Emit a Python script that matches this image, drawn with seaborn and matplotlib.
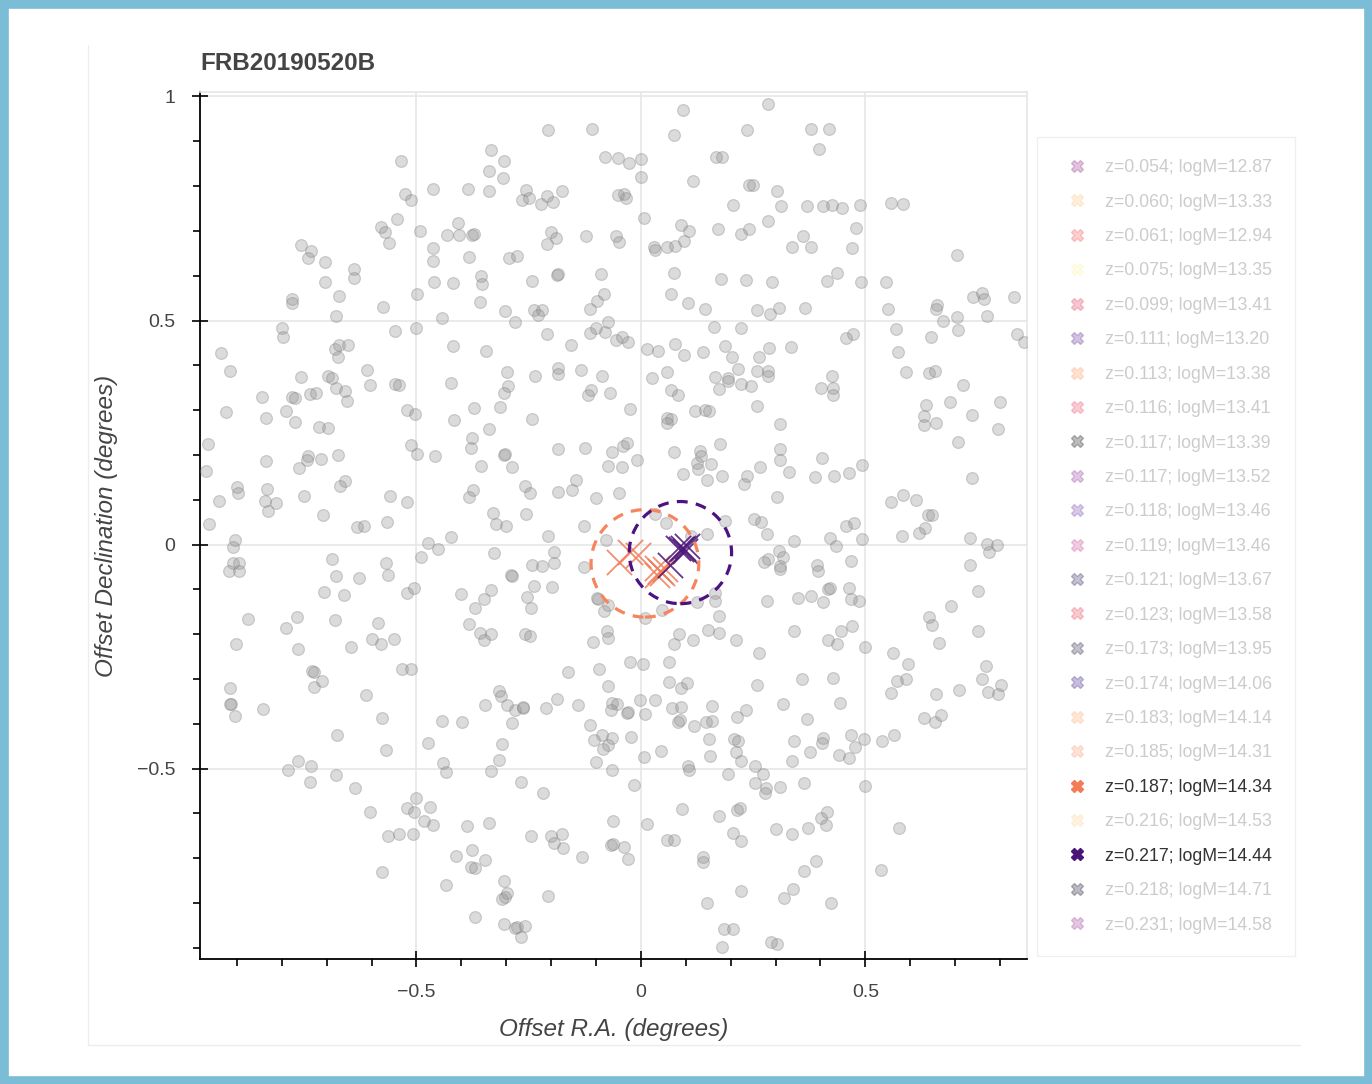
import matplotlib
matplotlib.use('Agg')
import matplotlib.pyplot as plt
import seaborn as sns
import pandas as pd
from matplotlib.patches import Circle, Rectangle
from matplotlib.lines import Line2D
from matplotlib.ticker import MultipleLocator, FuncFormatter

# title / axis text
title = 'FRB20190520B'
xlabel = 'Offset R.A. (degrees)'
ylabel = 'Offset Declination (degrees)'

# background galaxies (offset RA, offset Dec in degrees), read region by region
field_nw = [(-0.535,0.855),(-0.463,0.793),(-0.384,0.793),(-0.526,0.782),(-0.511,0.769),(-0.543,0.726),
            (-0.578,0.709),(-0.569,0.697),(-0.562,0.673),(-0.491,0.700),(-0.407,0.718),(-0.432,0.690),
            (-0.406,0.691),(-0.376,0.690),(-0.372,0.692),(-0.463,0.661),(-0.463,0.633),(-0.382,0.641),
            (-0.756,0.668),(-0.734,0.655),(-0.742,0.640),(-0.704,0.630),(-0.640,0.616),(-0.640,0.595),
            (-0.704,0.586),(-0.672,0.554),(-0.776,0.547),(-0.776,0.539),(-0.678,0.510),(-0.574,0.531),
            (-0.498,0.559),(-0.460,0.585),(-0.418,0.583),(-0.442,0.506),(-0.800,0.483),(-0.797,0.463),
            (-0.547,0.477),(-0.502,0.483),(-0.419,0.443),(-0.936,0.428),(-0.916,0.387),(-0.682,0.436),
            (-0.673,0.445),(-0.653,0.445),(-0.674,0.419),(-0.611,0.390)]

field_w = [(-0.757,0.373),(-0.696,0.376),(-0.687,0.371),(-0.680,0.349),(-0.658,0.343),(-0.655,0.321),
           (-0.604,0.356),(-0.547,0.359),(-0.538,0.356),(-0.422,0.361),(-0.844,0.329),(-0.778,0.329),
           (-0.771,0.327),(-0.736,0.336),(-0.723,0.339),(-0.924,0.295),(-0.835,0.282),(-0.791,0.298),
           (-0.771,0.274),(-0.718,0.263),(-0.698,0.259),(-0.520,0.300),(-0.504,0.292),(-0.416,0.279),
           (-0.964,0.224),(-0.969,0.164),(-0.835,0.186),(-0.742,0.198),(-0.744,0.189),(-0.762,0.170),
           (-0.713,0.190),(-0.675,0.200),(-0.513,0.223),(-0.498,0.203),(-0.458,0.197),(-0.376,0.238),
           (-0.378,0.215),(-0.899,0.129),(-0.898,0.116),(-0.833,0.124),(-0.837,0.098),(-0.813,0.092),
           (-0.830,0.074),(-0.940,0.097),(-0.750,0.108),(-0.658,0.142),(-0.670,0.130),(-0.707,0.065),
           (-0.559,0.109),(-0.520,0.096),(-0.962,0.045),(-0.632,0.039),(-0.616,0.042),(-0.566,0.051),
           (-0.382,0.106),(-0.375,0.122),(-0.904,0.010),(-0.908,-0.006),(-0.908,-0.042),(-0.896,-0.041),
           (-0.917,-0.059),(-0.896,-0.059),(-0.688,-0.033),(-0.679,-0.070),(-0.628,-0.074),(-0.568,-0.042),
           (-0.563,-0.067),(-0.705,-0.107),(-0.661,-0.113),(-0.522,-0.108),(-0.506,-0.097),(-0.474,0.004),
           (-0.453,-0.010),(-0.490,-0.027),(-0.424,0.016),(-0.401,-0.111),(-0.875,-0.167),(-0.791,-0.186),
           (-0.767,-0.161),(-0.682,-0.169),(-0.586,-0.175),(-0.600,-0.210),(-0.578,-0.223),(-0.551,-0.211),
           (-0.646,-0.229),(-0.764,-0.234),(-0.902,-0.222),(-0.382,-0.177),(-0.370,-0.141),(-0.732,-0.282),
           (-0.728,-0.284),(-0.532,-0.278),(-0.511,-0.278)]

field_sw = [(-0.915,-0.321),(-0.912,-0.355),(-0.916,-0.355),(-0.904,-0.382),(-0.841,-0.367),(-0.727,-0.317),
            (-0.710,-0.304),(-0.612,-0.336),(-0.576,-0.388),(-0.677,-0.424),(-0.567,-0.459),(-0.443,-0.393),
            (-0.398,-0.397),(-0.474,-0.443),(-0.764,-0.483),(-0.785,-0.503),(-0.735,-0.494),(-0.738,-0.531),
            (-0.678,-0.514),(-0.636,-0.544),(-0.604,-0.597),(-0.440,-0.488),(-0.433,-0.507),(-0.502,-0.565),
            (-0.520,-0.589),(-0.506,-0.596),(-0.469,-0.586),(-0.484,-0.616),(-0.463,-0.626),(-0.563,-0.650),
            (-0.538,-0.647),(-0.507,-0.646),(-0.576,-0.730),(-0.433,-0.759),(-0.412,-0.696),(-0.387,-0.629),
            (-0.376,-0.682),(-0.378,-0.720),(-0.369,-0.722),(-0.369,-0.831)]

field_s = [(-0.162,-0.284),(-0.093,-0.278),(0.062,-0.307),(0.089,-0.321),(0.102,-0.310),(-0.317,-0.327),
           (-0.312,-0.339),(-0.298,-0.358),(-0.348,-0.357),(-0.280,-0.370),(-0.263,-0.365),(-0.262,-0.362),
           (-0.287,-0.399),(-0.211,-0.365),(-0.187,-0.345),(-0.139,-0.358),(-0.073,-0.316),(-0.065,-0.353),
           (-0.054,-0.355),(-0.067,-0.369),(-0.032,-0.377),(-0.028,-0.374),(-0.001,-0.347),(0.009,-0.379),
           (0.032,-0.347),(0.070,-0.364),(0.090,-0.362),(0.083,-0.396),(0.087,-0.392),(0.118,-0.405),
           (0.145,-0.397),(0.158,-0.394),(0.159,-0.361),(0.152,-0.433),(0.154,-0.472),(0.213,-0.386),
           (0.235,-0.370),(0.207,-0.434),(0.216,-0.438),(0.212,-0.462),(0.224,-0.482),(0.255,-0.495),
           (0.254,-0.533),(0.258,-0.313),(-0.113,-0.402),(-0.087,-0.424),(-0.065,-0.432),(-0.073,-0.448),
           (-0.084,-0.457),(-0.105,-0.437),(-0.021,-0.429),(-0.310,-0.446),(-0.316,-0.480),(-0.334,-0.506),
           (-0.267,-0.529),(-0.219,-0.555),(-0.101,-0.486),(-0.064,-0.503),(0.006,-0.474),(0.044,-0.461),
           (-0.016,-0.537),(0.104,-0.494),(0.107,-0.503),(0.194,-0.512),(0.092,-0.590),(0.174,-0.606),
           (0.213,-0.592),(0.220,-0.589),(0.205,-0.644),(0.224,-0.661),(0.014,-0.623),(-0.063,-0.618),
           (-0.066,-0.670),(-0.062,-0.668),(-0.038,-0.676),(-0.028,-0.702),(0.059,-0.659),(0.073,-0.659),
           (0.138,-0.698),(0.138,-0.709),(-0.338,-0.622),(-0.245,-0.650),(-0.200,-0.651),(-0.194,-0.666),
           (-0.176,-0.647),(-0.173,-0.677),(-0.132,-0.698),(-0.347,-0.703),(-0.306,-0.752),(-0.310,-0.791),
           (-0.298,-0.778),(-0.302,-0.787),(-0.207,-0.784),(-0.304,-0.847),(-0.280,-0.856),(-0.276,-0.854),
           (-0.259,-0.851),(-0.267,-0.875),(0.224,-0.774),(0.147,-0.801),(0.185,-0.857),(0.206,-0.857),
           (0.181,-0.898)]

field_se = [(0.359,-0.301),(0.429,-0.297),(0.316,-0.355),(0.443,-0.353),(0.370,-0.390),(0.340,-0.438),
            (0.376,-0.462),(0.405,-0.431),(0.404,-0.442),(0.336,-0.482),(0.442,-0.469),(0.464,-0.477),
            (0.467,-0.425),(0.477,-0.452),(0.498,-0.434),(0.536,-0.438),(0.564,-0.424),(0.556,-0.332),
            (0.570,-0.304),(0.590,-0.301),(0.657,-0.333),(0.631,-0.388),(0.654,-0.397),(0.668,-0.380),
            (0.708,-0.324),(0.759,-0.300),(0.773,-0.330),(0.796,-0.334),(0.802,-0.314),(0.272,-0.513),
            (0.279,-0.543),(0.276,-0.555),(0.310,-0.541),(0.364,-0.532),(0.499,-0.540),(0.415,-0.598),
            (0.402,-0.610),(0.413,-0.626),(0.302,-0.635),(0.336,-0.646),(0.372,-0.633),(0.576,-0.633),
            (0.390,-0.707),(0.364,-0.728),(0.534,-0.727),(0.338,-0.768),(0.318,-0.788),(0.424,-0.800),
            (0.290,-0.887),(0.303,-0.892)]

field_e = [(0.401,0.350),(0.427,0.349),(0.429,0.334),(0.426,0.377),(0.259,0.388),(0.283,0.388),(0.283,0.377),
           (0.259,0.310),(0.309,0.270),(0.309,0.213),(0.309,0.188),(0.266,0.174),(0.329,0.163),(0.404,0.194),
           (0.387,0.151),(0.430,0.153),(0.464,0.160),(0.493,0.177),(0.304,0.105),(0.267,0.050),(0.253,0.056),
           (0.282,0.024),(0.341,0.007),(0.421,0.015),(0.435,-0.003),(0.456,0.042),(0.474,0.047),(0.493,0.013),
           (0.307,-0.015),(0.316,-0.027),(0.284,-0.032),(0.274,-0.040),(0.309,-0.047),(0.309,-0.054),
           (0.392,-0.045),(0.395,-0.058),(0.468,-0.036),(0.416,-0.100),(0.422,-0.097),(0.464,-0.097),
           (0.468,-0.121),(0.485,-0.125),(0.282,-0.127),(0.351,-0.120),(0.379,-0.115),(0.405,-0.128),
           (0.342,-0.194),(0.416,-0.212),(0.436,-0.223),(0.445,-0.192),(0.470,-0.181),(0.264,-0.241),
           (0.500,-0.229),(0.561,-0.241),(0.596,-0.267),(0.768,-0.270),(0.718,0.356),(0.688,0.318),
           (0.635,0.312),(0.630,0.286),(0.631,0.267),(0.658,0.271),(0.737,0.289),(0.800,0.318),(0.795,0.258),
           (0.707,0.229),(0.738,0.149),(0.556,0.096),(0.583,0.111),(0.613,0.100),(0.640,0.067),(0.648,0.065),
           (0.633,0.037),(0.620,0.025),(0.582,0.019),(0.734,0.014),(0.772,0.002),(0.776,-0.016),(0.794,-0.001),
           (0.734,-0.046),(0.751,-0.104),(0.690,-0.138),(0.642,-0.161),(0.649,-0.180),(0.663,-0.220),
           (0.751,-0.194)]

field_ne = [(0.283,0.984),(0.379,0.927),(0.418,0.927),(0.397,0.882),(0.304,0.790),(0.313,0.756),(0.370,0.756),
            (0.405,0.756),(0.425,0.757),(0.448,0.752),(0.489,0.757),(0.558,0.762),(0.584,0.759),(0.283,0.722),
            (0.361,0.689),(0.336,0.663),(0.379,0.663),(0.479,0.706),(0.470,0.661),(0.703,0.647),(0.292,0.586),
            (0.414,0.588),(0.437,0.605),(0.490,0.585),(0.547,0.587),(0.259,0.523),(0.288,0.515),(0.308,0.528),
            (0.366,0.529),(0.550,0.526),(0.659,0.535),(0.657,0.526),(0.673,0.500),(0.703,0.507),(0.707,0.479),
            (0.739,0.552),(0.759,0.562),(0.764,0.547),(0.772,0.511),(0.830,0.552),(0.569,0.480),(0.573,0.429),
            (0.646,0.463),(0.590,0.384),(0.641,0.382),(0.655,0.388),(0.837,0.471),(0.853,0.451),(0.456,0.460),
            (0.473,0.471),(0.285,0.439),(0.262,0.418),(0.335,0.441)]

field_n = [(-0.206,0.926),(-0.110,0.927),(0.094,0.970),(0.073,0.915),(0.237,0.925),(-0.334,0.880),(-0.305,0.856),
           (-0.339,0.833),(-0.307,0.818),(-0.338,0.788),(-0.080,0.864),(-0.052,0.862),(-0.027,0.851),(0.000,0.861),
           (0.000,0.820),(0.168,0.866),(0.181,0.864),(0.116,0.812),(0.241,0.802),(0.250,0.803),(-0.256,0.791),
           (-0.264,0.769),(-0.250,0.774),(-0.223,0.761),(-0.210,0.777),(-0.196,0.765),(-0.176,0.788),
           (-0.052,0.780),(-0.037,0.783),(-0.033,0.774),(0.205,0.757),(0.006,0.728),(-0.200,0.698),
           (-0.189,0.684),(-0.210,0.671),(-0.123,0.688),(-0.056,0.688),(-0.049,0.676),(0.090,0.713),
           (0.107,0.699),(0.171,0.704),(0.222,0.693),(0.241,0.704),(0.030,0.664),(0.031,0.657),(0.058,0.663),
           (0.076,0.667),(0.096,0.678),(-0.294,0.640),(-0.276,0.643),(-0.356,0.599),(-0.353,0.582),
           (-0.242,0.589),(-0.187,0.601),(-0.184,0.603),(-0.088,0.604),(0.073,0.607),(0.178,0.592),
           (0.235,0.590),(-0.359,0.542),(-0.302,0.521),(-0.280,0.496),(-0.237,0.523),(-0.221,0.523),
           (-0.230,0.512),(-0.114,0.526),(-0.098,0.543),(-0.082,0.560),(0.067,0.559),(0.105,0.539),
           (0.143,0.525),(-0.210,0.470),(-0.156,0.445),(-0.113,0.473),(-0.099,0.484),(-0.080,0.474),
           (-0.073,0.496),(-0.056,0.457),(-0.043,0.464),(-0.029,0.451),(-0.345,0.433),(-0.298,0.385),
           (-0.236,0.377),(-0.184,0.394),(-0.184,0.380),(-0.134,0.390),(-0.087,0.376),(0.013,0.436),
           (0.039,0.432),(0.076,0.447),(0.095,0.422),(0.138,0.430),(0.162,0.486),(0.224,0.483),(0.188,0.444),
           (0.203,0.419),(0.216,0.391),(0.058,0.385),(0.024,0.371),(0.164,0.375),(0.194,0.371)]

field_c = [(-0.295,0.353),(-0.304,0.338),(-0.313,0.308),(-0.242,0.281),(-0.339,0.258),(-0.371,0.304),
           (-0.117,0.334),(-0.112,0.344),(-0.068,0.338),(-0.024,0.303),(0.068,0.344),(0.083,0.334),
           (0.059,0.282),(0.068,0.281),(0.059,0.271),(0.120,0.297),(0.142,0.301),(0.152,0.297),(0.174,0.347),
           (0.194,0.364),(0.224,0.359),(0.246,0.353),(-0.306,0.200),(-0.302,0.203),(-0.356,0.176),
           (-0.287,0.173),(-0.185,0.213),(-0.125,0.216),(-0.065,0.207),(-0.039,0.220),(-0.032,0.226),
           (-0.073,0.176),(-0.041,0.174),(-0.008,0.189),(0.074,0.206),(0.131,0.208),(0.133,0.198),
           (0.126,0.183),(0.127,0.169),(0.156,0.180),(0.094,0.157),(0.147,0.145),(0.181,0.152),(0.176,0.225),
           (0.237,0.154),(0.230,0.136),(-0.258,0.130),(-0.248,0.114),(-0.184,0.117),(-0.154,0.122),
           (-0.144,0.144),(-0.101,0.104),(-0.048,0.116),(-0.330,0.071),(-0.323,0.045),(-0.301,0.042),
           (-0.256,0.069),(-0.207,0.018),(-0.127,0.042),(-0.077,0.011),(0.031,0.068),(0.055,0.048),
           (0.111,0.020),(0.148,0.024),(0.188,0.053),(-0.328,-0.018),(-0.193,-0.017),(-0.242,-0.045),
           (-0.221,-0.048),(-0.193,-0.042),(-0.127,-0.050),(-0.289,-0.067),(-0.286,-0.071),(-0.334,-0.102),
           (-0.350,-0.122),(-0.254,-0.117),(-0.244,-0.142),(-0.238,-0.093),(-0.197,-0.094),(-0.095,-0.122),
           (-0.098,-0.119),(-0.082,-0.149),(-0.073,-0.134),(0.009,-0.164),(0.046,-0.145),(0.126,-0.128),
           (0.166,-0.108),(0.166,-0.125),(0.174,-0.160),(-0.358,-0.197),(-0.350,-0.212),(-0.333,-0.200),
           (-0.258,-0.200),(-0.248,-0.204),(-0.107,-0.217),(-0.076,-0.194),(-0.074,-0.208),(0.074,-0.221),
           (0.084,-0.200),(0.116,-0.212),(0.150,-0.191),(0.173,-0.198),(0.211,-0.212),(-0.024,-0.263),
           (0.005,-0.266),(0.063,-0.262)]

# cluster members (crosses) for the two highlighted halos
members_187_ra = [-0.048, -0.024, -0.006, 0.035, 0.042, 0.048, 0.036, 0.053]
members_187_dec = [-0.039, -0.017, -0.023, -0.052, -0.059, -0.063, -0.069, -0.054]
members_217_ra = [0.064, 0.083, 0.094, 0.098, 0.103, 0.090]
members_217_dec = [-0.045, -0.007, -0.007, -0.015, -0.004, -0.011]

# halo extent circles (centre ra, centre dec, radius)
halo_ra = [0.009, 0.088]
halo_dec = [-0.042, -0.018]
halo_radius = [0.120, 0.114]
halo_colors = ['#f6845c', '#4d1281']

# legend entries
legend_labels = ['z=0.054; logM=12.87', 'z=0.060; logM=13.33', 'z=0.061; logM=12.94', 'z=0.075; logM=13.35',
                 'z=0.099; logM=13.41', 'z=0.111; logM=13.20', 'z=0.113; logM=13.38', 'z=0.116; logM=13.41',
                 'z=0.117; logM=13.39', 'z=0.117; logM=13.52', 'z=0.118; logM=13.46', 'z=0.119; logM=13.46',
                 'z=0.121; logM=13.67', 'z=0.123; logM=13.58', 'z=0.173; logM=13.95', 'z=0.174; logM=14.06',
                 'z=0.183; logM=14.14', 'z=0.185; logM=14.31', 'z=0.187; logM=14.34', 'z=0.216; logM=14.53',
                 'z=0.217; logM=14.44', 'z=0.218; logM=14.71', 'z=0.231; logM=14.58']
legend_colors = ['#9c3a93', '#fdc98d', '#f1605d', '#fcf4b0', '#de4968', '#6a3a9a', '#fe9f6d', '#ea5870',
                 '#222222', '#9a48a8', '#8052b0', '#d0559a', '#3c2c6a', '#e85266', '#3a3050', '#4a2c90',
                 '#feb078', '#fd9f80', '#f37b58', '#fdd8a0', '#4b1478', '#241c38', '#a3489e']
legend_active = [False] * 18 + [True, False, True, False, False]

field = pd.DataFrame(field_nw + field_w + field_sw + field_s + field_se + field_e + field_ne + field_n + field_c,
                     columns=['ra', 'dec'])

sns.set_style('white')
plt.rcParams['font.family'] = ['Liberation Sans', 'DejaVu Sans']

fig = plt.figure(figsize=(13.72, 10.84), dpi=100)
ax = fig.add_axes([200/1372, 1 - 959/1084, 827/1372, 867/1084])

sns.scatterplot(data=field, x='ra', y='dec', color='#909090', alpha=0.32, s=72,
                edgecolor='#7a7a7a', linewidth=0.9, ax=ax, legend=False, zorder=3)

sns.scatterplot(x=members_187_ra, y=members_187_dec, marker='x', color=legend_colors[18], s=330,
                linewidth=1.3, alpha=0.85, ax=ax, legend=False, zorder=4)
sns.scatterplot(x=members_217_ra, y=members_217_dec, marker='x', color=legend_colors[20], s=330,
                linewidth=1.3, alpha=0.85, ax=ax, legend=False, zorder=4)

for cx, cy, r, c in zip(halo_ra, halo_dec, halo_radius, halo_colors):
    ax.add_patch(Circle((cx, cy), r, fill=False, edgecolor=c, linewidth=2.3,
                        linestyle=(0, (3.4, 2.6)), zorder=5))

ax.set_xlim(-0.982, 0.860)
ax.set_ylim(-0.925, 1.010)

fmt = FuncFormatter(lambda v, p: ('%g' % round(v, 3)).replace('-', '\u2212') if abs(v) > 1e-9 else '0')
ax.xaxis.set_major_locator(MultipleLocator(0.5))
ax.yaxis.set_major_locator(MultipleLocator(0.5))
ax.xaxis.set_minor_locator(MultipleLocator(0.1))
ax.yaxis.set_minor_locator(MultipleLocator(0.1))
ax.xaxis.set_major_formatter(fmt)
ax.yaxis.set_major_formatter(fmt)
ax.tick_params(which='both', bottom=True, left=True, top=False, right=False)
ax.tick_params(which='major', direction='inout', length=12, width=1.2, color='black',
               labelsize=14, labelcolor='#444444', pad=12)
ax.tick_params(which='minor', direction='out', length=5, width=1.2, color='black')

ax.grid(True, which='major', color='#e6e6e6', linewidth=1.2, zorder=0)
ax.set_axisbelow(True)
for side in ['left', 'bottom']:
    ax.spines[side].set_color('black')
    ax.spines[side].set_linewidth(1.3)
for side in ['top', 'right']:
    ax.spines[side].set_color('#e6e6e6')
    ax.spines[side].set_linewidth(1.2)

ax.set_xlabel(xlabel, fontsize=17.5, fontstyle='italic', color='#444444', labelpad=12)
ax.set_ylabel(ylabel, fontsize=17.5, fontstyle='italic', color='#444444', labelpad=13)
ax.set_title(title, loc='left', fontsize=17.5, fontweight='bold', color='#444444', pad=16)

handles = []
for c, a in zip(legend_colors, legend_active):
    handles.append(Line2D([], [], marker='X', linestyle='', markersize=8, markerfacecolor=c,
                          markeredgecolor=c, alpha=1.0 if a else 0.3))
leg = ax.legend(handles, legend_labels, loc='upper left', bbox_to_anchor=(1037/1372, 1 - 137/1084),
                bbox_transform=fig.transFigure, frameon=True, fancybox=False, edgecolor='#ececec',
                fontsize=12.8, borderpad=1.25, handlelength=2.0, handletextpad=0.6, labelspacing=0.98,
                borderaxespad=0)
leg.get_frame().set_linewidth(1.0)
for txt, a in zip(leg.get_texts(), legend_active):
    txt.set_color('#333333' if a else '#cccccc')

# faint card edges and outer blue frame
fig.add_artist(Line2D([88/1372, 88/1372], [1 - 45/1084, 1 - 1045/1084], transform=fig.transFigure,
                      color='#ededed', linewidth=1.0))
fig.add_artist(Line2D([88/1372, 1300/1372], [1 - 1045/1084, 1 - 1045/1084], transform=fig.transFigure,
                      color='#ededed', linewidth=1.0))
fig.add_artist(Rectangle((0, 0), 1, 1, transform=fig.transFigure, fill=False,
                         edgecolor='#7bbdd6', linewidth=12))

fig.savefig('out.png', dpi=100)
